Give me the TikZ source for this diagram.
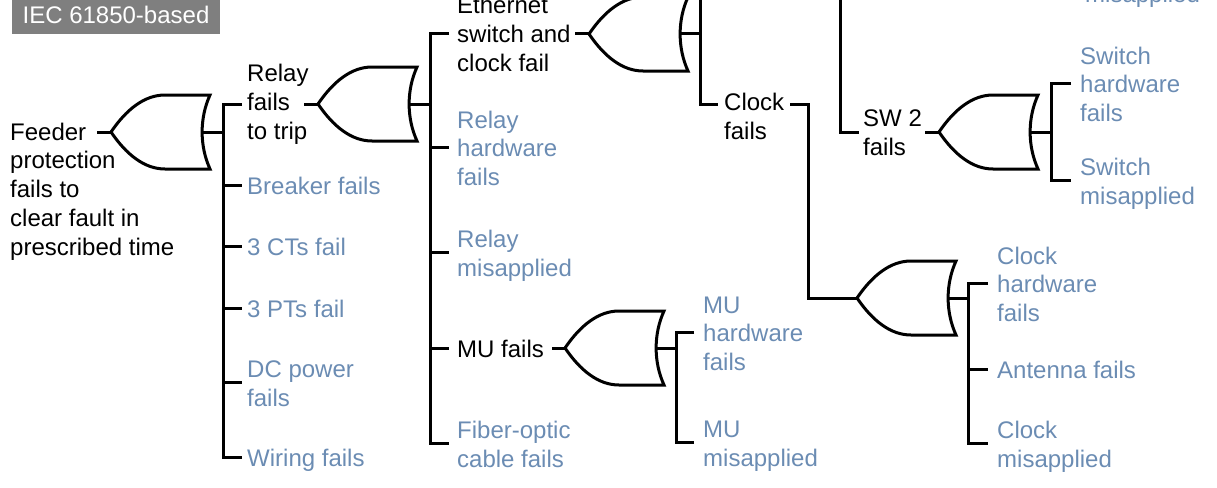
\documentclass[tikz,border=0pt]{standalone}
\usepackage{fontspec}
\setmainfont{Liberation Sans}
\definecolor{evtblue}{HTML}{6B8CB3}
\definecolor{boxgray}{HTML}{7F7F7F}
\newcommand{\lnstrut}{\rule[-4.6pt]{0pt}{28.8pt}}
\tikzset{
	wire/.style={line width=3pt},
	blk/.style={anchor=west,align=left,inner ysep=0pt,inner xsep=#1,font=\fontsize{24}{28.8}\selectfont,
		execute at begin node=\lnstrut,execute at end node=\lnstrut},
	evt/.style={blk=#1,text=evtblue},
	orgate/.pic={
		\draw[wire] (0,0) .. controls (15,-22) and (33,-37) .. (54,-37) -- (99,-37)
			.. controls (88.5,-14) and (88.5,14) .. (99,37) -- (54,37)
			.. controls (33,37) and (15,22) .. (0,0) -- cycle;
		\coordinate (-in) at (0,0);
		\coordinate (-out) at (91,0);
	}
}
\begin{document}
\begin{tikzpicture}[x=1pt,y=-1pt]
	\useasboundingbox (0,0) rectangle (1217,487);
	\clip (0,0) rectangle (1217,487);
	\node[fill=boxgray,text=white,inner sep=0pt,minimum width=208pt,minimum height=34pt,text height=13pt,text depth=0pt,font=\fontsize{24}{28.8}\selectfont] (iec) at (116,17) {IEC 61850-based};
	% gates
	\pic (gateA) at (111,132) {orgate};
	\pic (gateB) at (318,104) {orgate};
	\pic (gateC) at (589,34) {orgate};
	\pic (gateD) at (565,348) {orgate};
	\pic (gateE) at (939,132) {orgate};
	\pic (gateF) at (857,298) {orgate};
	% first column
	\node[blk=0pt] (feeder) at (10,188) {\lnstrut Feeder\\protection\\fails to\\clear fault in\\prescribed time};
	\node[blk=5pt] (relay) at (242,101) {\lnstrut Relay\\fails\\to trip};
	\node[evt=5pt] (breaker) at (242,185) {Breaker fails};
	\node[evt=5pt] (cts) at (242,246) {3 CTs fail};
	\node[evt=5pt] (pts) at (242,308) {3 PTs fail};
	\node[evt=5pt] (dcpower) at (242,382) {\lnstrut DC power\\fails};
	\node[evt=5pt] (wiring) at (242,457) {Wiring fails};
	% second column
	\node[blk=8pt] (ethclock) at (449,33) {\lnstrut Ethernet\\switch and\\clock fail};
	\node[evt=8pt] (relayhw) at (449,147) {\lnstrut Relay\\hardware\\fails};
	\node[evt=8pt] (relaymis) at (449,252) {\lnstrut Relay\\misapplied};
	\node[blk=8pt] (mufails) at (449,348) {MU fails};
	\node[evt=8pt] (fiber) at (449,443) {\lnstrut Fiber-optic\\cable fails};
	\node[evt=9pt] (muhw) at (694,332) {\lnstrut MU\\hardware\\fails};
	\node[evt=9pt] (mumis) at (694,442) {\lnstrut MU\\misapplied};
	% right side
	\node[blk=6pt] (clock) at (718,115) {\lnstrut Clock\\fails};
	\node[blk=4pt] (sw) at (859,131) {\lnstrut SW 2\\fails};
	\node[evt=9pt] (upmis) at (1076,-7) {misapplied};
	\node[evt=9pt] (swhw) at (1071,83) {\lnstrut Switch\\hardware\\fails};
	\node[evt=9pt] (swmis) at (1071,180) {\lnstrut Switch\\misapplied};
	\node[evt=9pt] (clockhw) at (988,283) {\lnstrut Clock\\hardware\\fails};
	\node[evt=9pt] (antenna) at (988,369) {Antenna fails};
	\node[evt=9pt] (clockmis) at (988,443) {\lnstrut Clock\\misapplied};
	% free ends
	\coordinate (feederOut) at (97,132);
	\coordinate (relayOut) at (304,104);
	\coordinate (ethOut) at (575,34);
	\coordinate (muOut) at (552,348);
	\coordinate (clockOut) at (790,104);
	\coordinate (swOut) at (925,132);
	\coordinate (busA) at (223,104);
	\coordinate (busB) at (430,34);
	\coordinate (busC) at (700,-12);
	\coordinate (busD) at (840,-12);
	\coordinate (busE) at (1051,83);
	\coordinate (busF) at (968,283);
	\coordinate (busG) at (676,332);
	\coordinate (busH) at (808,104);
	% connectors
	\draw[wire] (feederOut)--(gateA-in);
	\draw[wire] (relayOut)--(gateB-in);
	\draw[wire] (ethOut)--(gateC-in);
	\draw[wire] (muOut)--(gateD-in);
	\draw[wire] (swOut)--(gateE-in);
	\draw[wire] (clockOut)--(busH)--(busH |- gateF-in)--(gateF-in);
	\draw[wire] (gateA-out)--(busA |- gateA-out);
	\draw[wire] (gateB-out)--(busB |- gateB-out);
	\draw[wire] (gateC-out)--(busC |- gateC-out);
	\draw[wire] (gateD-out)--(busG |- gateD-out);
	\draw[wire] (gateE-out)--(busE |- gateE-out);
	\draw[wire] (gateF-out)--(busF |- gateF-out);
	\draw[wire] (relay.west |- busA)--(busA)--(busA |- wiring.west)--(wiring.west);
	\draw[wire] (ethclock.west |- busB)--(busB)--(busB |- fiber.west)--(fiber.west);
	\draw[wire] (busC)--(busC |- clockOut)--(clock.west |- clockOut);
	\draw[wire] (busD)--(busD |- swOut)--(sw.west |- swOut);
	\draw[wire] (swhw.west)--(busE)--(busE |- swmis.west)--(swmis.west);
	\draw[wire] (clockhw.west)--(busF)--(busF |- clockmis.west)--(clockmis.west);
	\draw[wire] (muhw.west)--(busG)--(busG |- mumis.west)--(mumis.west);
	\foreach \n in {breaker,cts,pts,dcpower} \draw[wire] (busA |- \n.west)--(\n.west);
	\foreach \n in {relayhw,relaymis,mufails} \draw[wire] (busB |- \n.west)--(\n.west);
	\draw[wire] (busF |- antenna.west)--(antenna.west);
\end{tikzpicture}
\end{document}
